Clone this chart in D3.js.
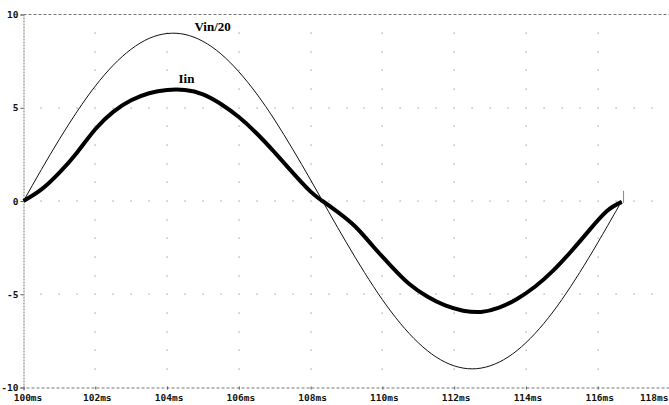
<!DOCTYPE html>
<html><head><meta charset="utf-8">
<script src="https://cdn.jsdelivr.net/npm/d3@7"></script>
<style>
html,body{margin:0;padding:0;background:#fff;}
svg{display:block;}
</style></head>
<body>
<svg id="chart" width="669" height="405"></svg>
<script>
// ---- data ----
const xTickValues = [100,102,104,106,108,110,112,114,116,118];
const xTickLabels = ["100ms","102ms","104ms","106ms","108ms","110ms","112ms","114ms","116ms","118ms"];
const yTickValues = [-10,-5,0,5,10];
const yTickLabels = ["-10","-5","0","5","10"];

const vinTime = [100,100.5,101,101.5,102,102.5,103,103.5,104,104.5,105,105.5,106,106.5,107,107.5,108,108.5,109,109.5,110,110.5,111,111.5,112,112.5,113,113.5,114,114.5,115,115.5,116,116.5,116.67];
const vinValues = [0,1.69,3.31,4.82,6.16,7.28,8.14,8.72,8.98,8.93,8.56,7.89,6.93,5.74,4.34,2.78,1.13,-0.57,-2.24,-3.83,-5.29,-6.56,-7.60,-8.37,-8.84,-9.00,-8.84,-8.37,-7.60,-6.56,-5.29,-3.83,-2.24,-0.57,0];

const iinTime = [100,100.5,101,101.5,102,102.5,103,103.5,104,104.5,105,105.5,106,106.5,107,107.5,108,108.33,108.75,109.25,109.75,110.25,110.75,111.25,111.75,112.25,112.75,113.25,113.75,114.25,114.75,115.25,115.75,116.25,116.67];
const iinValues = [0,0.62,1.52,2.62,3.85,4.78,5.40,5.78,5.95,5.95,5.72,5.20,4.50,3.62,2.60,1.52,0.50,0,-0.58,-1.38,-2.45,-3.50,-4.45,-5.12,-5.60,-5.88,-5.95,-5.72,-5.25,-4.60,-3.75,-2.72,-1.60,-0.55,-0.05];

const labels = [{text:"Vin/20", t:105.27, v:9.1}, {text:"Iin", t:104.54, v:6.33}];

// ---- chart ----
const svg = d3.select("#chart");
const x = d3.scaleLinear().domain([100,118]).range([23.5,669.5]);
const y = d3.scaleLinear().domain([-10,10]).range([387.5,14.5]);

// grid dots
const dots = [];
for (const tv of [-5,0,5]) {
  for (let t = 100.5; t < 118; t += 0.5) dots.push([t, tv]);
}
for (const tx of xTickValues.slice(1, -1)) {
  for (let v = -9; v <= 9; v += 1) if (v % 5 !== 0) dots.push([tx, v]);
}
svg.append("g").selectAll("rect").data(dots).join("rect")
  .attr("x", d => Math.round(x(d[0])) - 0.5)
  .attr("y", d => Math.round(y(d[1])) - 0.5)
  .attr("width", 1.2).attr("height", 1.2)
  .attr("fill", "#9a9a9a");

// axes frame lines (dashed)
const axisColor = "#777";
svg.append("line").attr("x1", x(100)).attr("x2", x(118)).attr("y1", y(10)).attr("y2", y(10))
  .attr("stroke", axisColor).attr("stroke-width", 1).attr("stroke-dasharray", "3,2");

const xAxis = d3.axisBottom(x).tickValues(xTickValues).tickSize(3).tickFormat((d,i) => xTickLabels[i]);
const gx = svg.append("g").attr("transform", `translate(0,${y(-10)})`).call(xAxis);
gx.select(".domain").attr("stroke", axisColor).attr("stroke-dasharray", "3,2");
gx.selectAll(".tick line").attr("stroke", "#555").attr("transform", "translate(0,-1)");
gx.selectAll(".tick text").attr("font-family", "DejaVu Sans Mono, monospace")
  .attr("font-weight", "bold").attr("font-size", 9.5).attr("fill", "#111")
  .attr("dy", "0.95em").attr("y", 4)
  .attr("dx", (d,i) => i === 0 ? 4 : 1.5)
  .attr("text-anchor", (d,i) => i === xTickValues.length - 1 ? "end" : "middle")
  .attr("x", (d,i) => i === xTickValues.length - 1 ? -3 : 0);

const yAxis = d3.axisLeft(y).tickValues(yTickValues).tickSize(3).tickFormat((d,i) => yTickLabels[i]);
const gy = svg.append("g").attr("transform", `translate(${x(100)},0)`).call(yAxis);
gy.select(".domain").attr("stroke", axisColor).attr("stroke-dasharray", "2,1");
gy.selectAll(".tick line").attr("stroke", "#555");
gy.selectAll(".tick text").attr("font-family", "DejaVu Sans Mono, monospace")
  .attr("font-weight", "bold").attr("font-size", 9.5).attr("fill", "#111").attr("x", -5);

// curves
const vinData = vinTime.map((t,i) => [t, vinValues[i]]);
const iinData = iinTime.map((t,i) => [t, iinValues[i]]);
const line = d3.line().x(d => x(d[0])).y(d => y(d[1])).curve(d3.curveNatural);

svg.append("path").datum(iinData).attr("d", line)
  .attr("fill", "none").attr("stroke", "#000").attr("stroke-width", 4).attr("stroke-linejoin", "round");
svg.append("path").datum(vinData).attr("d", line)
  .attr("fill", "none").attr("stroke", "#111").attr("stroke-width", 1);

// end spike of Iin
svg.append("line").attr("x1", x(116.72)).attr("x2", x(116.72)).attr("y1", y(0.55)).attr("y2", y(-0.1))
  .attr("stroke", "#888").attr("stroke-width", 1);

// trace labels
svg.append("g").selectAll("text").data(labels).join("text")
  .attr("x", d => x(d.t)).attr("y", d => y(d.v))
  .attr("text-anchor", "middle")
  .attr("font-family", "Liberation Serif, Times New Roman, serif")
  .attr("font-weight", "bold").attr("font-size", 13)
  .attr("fill", "#000")
  .text(d => d.text);
</script>
</body></html>
